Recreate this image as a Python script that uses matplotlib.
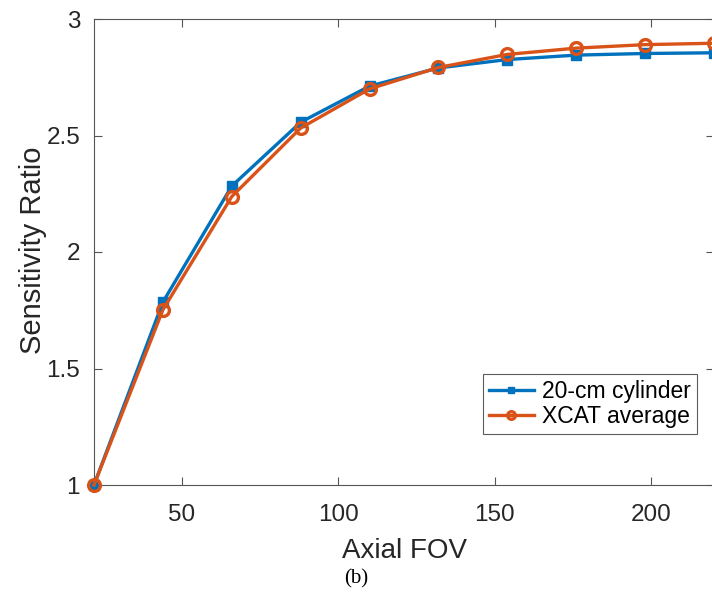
import matplotlib
matplotlib.use("Agg")
import matplotlib.pyplot as plt

fov = [22, 44, 66, 88, 110, 132, 154, 176, 198, 220]
cylinder = [1.0, 1.785, 2.283, 2.557, 2.712, 2.790, 2.826, 2.845, 2.852, 2.855]
xcat = [1.0, 1.752, 2.238, 2.532, 2.700, 2.792, 2.848, 2.875, 2.890, 2.896]

plt.rcParams['font.family'] = ['Liberation Sans', 'DejaVu Sans']

fig = plt.figure(figsize=(7.12, 5.94), dpi=100)
ax = fig.add_axes([94 / 712, 1 - 485 / 594, 620 / 712, 466 / 594])

ax.plot(fov, cylinder, color='#0072BD', lw=2.4, marker='s', ms=6.5,
        label='20-cm cylinder', clip_on=False, zorder=3)
ax.plot(fov, xcat, color='#D95319', lw=2.4, marker='o', ms=8.5,
        mfc='none', mew=2.4, label='XCAT average', clip_on=False, zorder=4)

ax.set_xlim(22, 220)
ax.set_ylim(1, 3)
ax.set_xticks([50, 100, 150, 200])
ax.set_yticks([1, 1.5, 2, 2.5, 3])
ax.set_yticklabels(['1', '1.5', '2', '2.5', '3'])
ax.tick_params(direction='in', length=6, width=0.8, color='#555555',
               labelsize=17.5, labelcolor='#262626', top=True, right=True)
ax.tick_params(axis='x', pad=14)
ax.tick_params(axis='y', pad=10)
for s in ax.spines.values():
    s.set_color('#555555')
    s.set_linewidth(0.8)

ax.set_xlabel('Axial FOV', fontsize=20, color='#262626', labelpad=8)
ax.set_ylabel('Sensitivity Ratio', fontsize=21, color='#262626', labelpad=2)
ax.yaxis.set_label_coords(-0.075, 0.503)

leg = ax.legend(loc='lower right', bbox_to_anchor=(0.9726, 0.109), fontsize=16.5,
                frameon=True, fancybox=False, handlelength=2.0,
                borderpad=0.25, labelspacing=0.1, handletextpad=0.35,
                borderaxespad=0, markerscale=0.65)
leg.get_frame().set_edgecolor('#333333')
leg.get_frame().set_linewidth(0.8)

fig.text(0.5, 1 - 579 / 594, '(b)', family='Liberation Serif', fontsize=15,
         ha='center', va='center')

fig.savefig('out.png', dpi=100)
